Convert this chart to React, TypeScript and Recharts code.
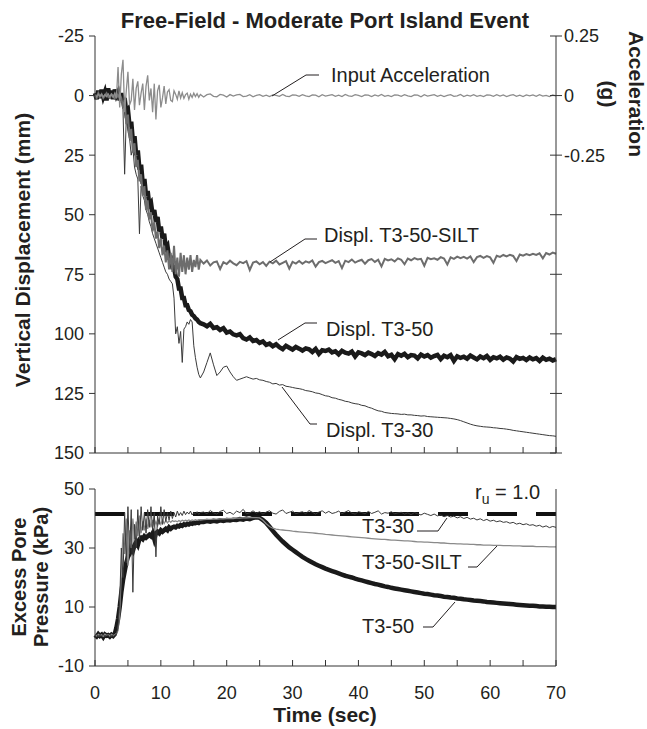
import React from "react";
import { LineChart, Line, XAxis, YAxis, ReferenceLine } from "recharts";

const FONT = '"Liberation Sans", Arial, Helvetica, sans-serif';
const INK = "#231f20";
const AXIS = "#333";

// sampling grid (sec): 0-16 every 0.25 s, then 16.5-70 every 0.5 s
const fineTime = Array.from({ length: 65 }, (_, i) => i * 0.25);
const coarseTime = Array.from({ length: 108 }, (_, i) => 16.5 + i * 0.5);
const time = [...fineTime, ...coarseTime];

const timeTicks = [0, 5, 10, 15, 20, 25, 30, 35, 40, 45, 50, 55, 60, 65, 70];
const dispTicks = [-25, 0, 25, 50, 75, 100, 125, 150];
const accTicks = [0.25, 0, -0.25, -0.5, -0.75, -1, -1.25, -1.5];
const poreTicks = [50, 30, 10, -10];
const ruLevel = 41.5;

// input acceleration (g)
const accel = [
  0.004, -0.005, 0.006, -0.003, 0.005, -0.006, 0.004, -0.004, 0.007, -0.005, 0.006, -0.008, 0.01, -0.012,
  0.12, -0.05, 0.09, 0.15, -0.07, 0.02, 0.1, -0.04, -0.02, 0.07, -0.06, 0.03, 0.06, -0.04, 0.01, 0.05,
  -0.06, 0.04, 0.085, -0.02, 0.03, -0.07, 0.05, -0.1, 0.02, 0.045, -0.05, -0.01, 0.04, -0.035, 0.015, 0.025,
  -0.02, -0.025, 0.02, 0.005, -0.015, 0.02, -0.01, 0.012, -0.012, 0.004, 0.01, -0.015, 0.006, -0.008, 0.01,
  -0.004, 0.008, -0.007, 0.005,
  -0.006, 0.004, 0.007, -0.003, -0.005, 0.005, 0.002, -0.006, 0.004, -0.002,
  0.003, 0.005, -0.004, -0.002, 0.004, -0.005, 0.001, 0.004, -0.003, 0.002,
  -0.004, 0.003, 0.001, -0.003, 0.005, -0.002, -0.004, 0.003, 0.002, -0.003,
  0.004, -0.001, -0.004, 0.003, 0.002, -0.005, 0.004, -0.002, 0.001, 0.004,
  -0.003, 0.002, -0.004, 0.005, -0.001, -0.003, 0.004, 0.001, -0.004, 0.003,
  0.002, -0.004, 0.003, -0.002, 0.005, -0.003, 0.001, -0.004, 0.003, 0.002,
  -0.003, 0.004, -0.001, -0.004, 0.003, 0.002, -0.005, 0.004, -0.002, 0.001,
  0.004, -0.003, 0.002, -0.004, 0.001, 0.004, -0.003, -0.001, 0.005, -0.004,
  0.002, -0.002, 0.004, -0.003, 0.001, -0.004, 0.003, 0.002, -0.003, 0.004,
  -0.002, 0.003, -0.004, 0.001, 0.004, -0.003, 0.002, -0.004, 0.003, -0.001,
  0.003, -0.003, 0.004, -0.002, 0.001, -0.004, 0.003, -0.001,
];

// vertical displacement (mm)
const displT350 = [
  -1, 1.5, -2, 1, -2.5, 0.5, -1.5, 2, -3, 1, -2, 1.5, -2.5, 0, -1.5, 2, -1,
  3, 1, 7, 6, 13, 11, 19, 17, 25, 23, 31, 29, 37, 35, 42, 40, 46, 45, 50, 48, 53, 51, 57, 55,
  60, 58, 64, 63, 68, 68, 72, 72, 76, 77, 81, 81, 85, 85, 88, 88, 90, 90.5, 92, 92.5, 93.5, 94, 95, 95.5,
  96, 96.8, 95.8, 97.5, 97.2, 98.4, 97.6, 99.5, 99, 100.2,
  100.6, 100.1, 101.8, 102.4, 101.5, 103, 102.6, 103.8, 103.2, 104.6,
  104.1, 105.2, 104.4, 105.6, 106.4, 105, 105.8, 106.6, 105.5, 106.2,
  107, 106.1, 106.5, 107.6, 106.3, 108.4, 106.9, 107.2, 106.6, 107.8,
  107.3, 108.6, 107.1, 107.9, 108.3, 107.4, 109.5, 107.8, 108.2, 108.9,
  107.9, 108.5, 109.3, 108.1, 108.7, 107.6, 109.4, 108.8, 110.6, 108.5,
  109.2, 108.4, 109.8, 108.9, 109.1, 110.3, 108.7, 109.5, 108.9, 110,
  109.3, 108.8, 110.6, 109.2, 109.8, 108.9, 111.3, 109.4, 110.1, 109.6,
  110.4, 109.1, 109.9, 110.7, 109.5, 110.2, 109.3, 110.9, 109.8, 110.3,
  109.6, 110.8, 109.9, 110.4, 111.6, 109.8, 110.5, 110.1, 111, 109.9,
  110.7, 110.2, 111.4, 110, 110.9, 110.4, 111.2, 110.6,
];

const displT330 = [
  0.5, -0.5, 1, 0, -1, 0.5, -0.5, 1, -1, 0.5, 0, 1, -0.5, 0.5, 0, 1, 2,
  6, 33, 9, 15, 18, 25, 22, 30, 33, 35, 58, 38, 42, 44, 48, 50, 53, 55, 58, 60, 62, 64, 66, 68,
  70, 72, 74, 75, 77, 78, 79, 85, 100, 97, 104, 99, 112, 98, 97, 95, 96, 94, 95, 105, 110, 114, 117, 118.5,
  116, 112, 108, 113, 117.5, 116, 114, 113.5, 116, 118,
  119.5, 119, 118.5, 118, 118.5, 119, 118.7, 119.3, 119.5, 120,
  120.3, 121, 120.8, 121.5, 121.3, 122, 122.2, 122.5, 122.8, 123,
  123.3, 123.8, 124, 124.3, 124.8, 125, 125.5, 126, 126.2, 126.8,
  127, 127.5, 127.8, 128.3, 128.5, 129, 129.3, 129.5, 130, 130.2,
  130.8, 131.2, 131.8, 132.3, 132.5, 133, 133.2, 133.4, 133.5, 133.6,
  133.8, 133.7, 134, 134, 134.2, 134.3, 134.5, 134.4, 134.7, 134.8,
  134.9, 135, 135.1, 135.2, 135.3, 135.5, 135.7, 136, 136.4, 136.9,
  137.4, 137.9, 138.3, 138.6, 138.8, 139, 139.1, 139.2, 139.4, 139.5,
  139.7, 139.8, 140, 140.2, 140.5, 140.7, 140.9, 141.1, 141.3, 141.5,
  141.7, 141.9, 142.1, 142.3, 142.5, 142.7, 142.8, 143,
];

const displT350Silt = [
  0, 1, -1, 0.5, -0.5, 1, 0, -1, 0.5, 1, -0.5, 0, 1, -1, 0.5, -0.5, 1,
  5, 2, 12, 8, 18, 14, 24, 20, 30, 27, 36, 33, 42, 38, 48, 44, 52, 49, 57, 53, 60, 57, 64, 60,
  67, 63, 70, 65, 73, 66, 74, 63, 75, 68, 76, 66, 74, 67, 75, 68, 73, 67, 74, 69, 72, 67, 73, 69,
  70.5, 69.2, 71.3, 70, 69.6, 72.8, 69.9, 70.7, 69.3, 70.4,
  71.2, 69.8, 70.3, 69.5, 73.2, 70.1, 69.6, 70.8, 69.9, 71.5,
  69.7, 70.4, 69.3, 70.9, 70.2, 69.5, 72.6, 69.8, 70.5, 69.4,
  70.6, 69.6, 70.1, 69.2, 71.8, 69.9, 69.4, 70.3, 69.7, 69.1,
  70.2, 69.5, 72.4, 69.3, 69.9, 68.8, 70.1, 69.4, 68.9, 70.6,
  69.1, 68.6, 69.8, 68.9, 71.7, 68.5, 69.2, 68.7, 69.6, 68.3,
  68.9, 70.8, 68.4, 69.1, 68.2, 68.8, 68.5, 71.4, 68.1, 68.7,
  68.3, 68.9, 67.8, 68.4, 70.9, 67.9, 68.5, 67.6, 68.2, 67.7,
  68.4, 67.5, 69.9, 67.8, 67.3, 68.1, 67.4, 67.9, 70.2, 67.2,
  67.7, 66.9, 67.5, 66.8, 67.3, 69.4, 66.7, 67.2, 66.5, 67,
  66.4, 66.9, 66.2, 68.3, 66.1, 66.7, 65.9, 66.4,
];

// excess pore pressure (kPa)
const poreT350 = [
  0.5, 0, 0.8, 0.2, 0.6, -0.2, 0.7, 0.3, 0.5, 0, 0.6, 0.2, 0.8,
  3, 6, 10, 15, 19, 22, 25, 27, 28, 30, 29, 31, 32, 31, 33, 33.5, 33, 34, 33.5, 34, 34.5, 34, 35, 33,
  35, 35.5, 35, 36, 35.5, 36, 36.5, 36, 37, 36.5, 37, 37.2, 37, 37.5, 37.3, 37.8, 37.5, 38, 37.8, 38.2,
  38, 38.4, 38.2, 38.5, 38.4, 38.7, 38.5, 38.9,
  38.8, 39.1, 38.9, 39.2, 39, 39.4, 39.2, 39.5, 39.3, 39.6,
  39.5, 39.8, 39.6, 40, 39.8, 40.2, 40.4, 40.2, 39.5, 38.5,
  37.2, 35.8, 34.5, 33.3, 32.2, 31.2, 30.2, 29.4, 28.6, 27.8,
  27, 26.3, 25.7, 25.1, 24.5, 24, 23.5, 23, 22.6, 22.2,
  21.8, 21.4, 21, 20.6, 20.3, 20, 19.6, 19.3, 19, 18.7,
  18.4, 18.1, 17.8, 17.6, 17.3, 17, 16.8, 16.5, 16.3, 16.1,
  15.9, 15.7, 15.5, 15.3, 15.1, 14.9, 14.7, 14.5, 14.4, 14.2,
  14, 13.9, 13.7, 13.5, 13.4, 13.2, 13.1, 12.9, 12.8, 12.6,
  12.5, 12.4, 12.2, 12.1, 12, 11.9, 11.7, 11.6, 11.5, 11.4,
  11.3, 11.2, 11.1, 11, 10.9, 10.8, 10.7, 10.6, 10.5, 10.4,
  10.4, 10.3, 10.2, 10.2, 10.1, 10.1, 10, 10,
];

const poreT330 = [
  0.3, 0.8, -0.2, 0.6, 0.1, 0.9, -0.1, 0.5, 0.2, 0.8, 0, 0.6, 0.3, 1, 3,
  12, 30, 20, 42, 25, 44, 28, 43, 15, 38, 30, 43, 33, 44, 36, 42, 35, 43, 37, 44, 36, 42, 27, 41,
  38, 44, 38, 43, 39, 42, 39.5, 42.5, 40, 42, 40.5, 42.5, 41, 42, 41, 42.5, 41.3, 42.2, 41.5, 42.5,
  41.2, 42, 41.5, 42.3, 41.4, 42,
  42.2, 41.6, 42.7, 41.9, 41.5, 42.4, 42.8, 41.7, 42.1, 41.4,
  42.5, 42, 43.1, 41.6, 41.9, 42.6, 41.8, 42.3, 41.5, 42.2,
  42.6, 41.8, 41.5, 42.4, 42.9, 41.7, 42.1, 42.5, 41.6, 42,
  42.3, 41.6, 42.7, 42.1, 41.5, 42.2, 42.6, 41.8, 42.4, 41.7,
  42, 42.5, 41.6, 42.2, 42.7, 41.8, 41.5, 42.3, 42, 41.6,
  42.4, 41.7, 42.1, 42.6, 41.5, 42, 41.8, 42.3, 41.6, 41.9,
  42.1, 41.5, 41.9, 41.3, 42, 41.6, 41.2, 41.8, 41.4, 41,
  41.5, 40.9, 41.2, 40.6, 41, 40.5, 40.8, 40.2, 40.6, 40,
  40.4, 39.8, 40.1, 39.5, 39.9, 39.3, 39.7, 39.1, 39.4, 38.9,
  39.2, 38.7, 38.9, 38.4, 38.7, 38.1, 38.4, 37.9, 38.2, 37.7,
  37.9, 37.4, 37.7, 37.1, 37.5, 36.9, 37.3, 37,
];

const poreT350Silt = [
  0.5, 0.2, 0.7, 0.3, 0.6, 0.1, 0.8, 0.4, 0.5, 0.2, 0.7, 0.3, 0.6, 1, 2,
  8, 22, 35, 28, 40, 24, 36, 30, 40, 33, 39, 34, 41, 35, 39, 36, 40, 36.5, 39.5, 37, 39.5, 37.5, 39, 37.5,
  39.5, 38, 39.5, 38.3, 39.3, 38.5, 39.3, 38.7, 39.3, 39, 39.2, 38.9, 39.3, 39, 39.4, 39.1, 39.4, 39.2,
  39.5, 39.2, 39.5, 39.3, 39.6, 39.4, 39.6, 39.5,
  39.6, 39.7, 39.7, 39.8, 39.8, 39.9, 39.9, 40, 40, 40,
  40.1, 40.1, 40.2, 40.2, 40.3, 40.3, 40.3, 40.2, 39.4, 38.2,
  37.3, 36.7, 36.4, 36.2, 36.1, 36, 35.9, 35.7, 35.6, 35.5,
  35.4, 35.3, 35.2, 35.1, 35, 34.9, 34.8, 34.6, 34.5, 34.4,
  34.3, 34.2, 34.1, 34, 33.9, 33.8, 33.7, 33.6, 33.5, 33.4,
  33.3, 33.2, 33.1, 33, 32.9, 32.9, 32.8, 32.7, 32.7, 32.6,
  32.5, 32.4, 32.4, 32.3, 32.2, 32.1, 32.1, 32, 32, 31.9,
  31.8, 31.8, 31.7, 31.7, 31.6, 31.5, 31.5, 31.4, 31.4, 31.3,
  31.3, 31.2, 31.2, 31.1, 31.1, 31, 31, 31, 30.9, 30.9,
  30.9, 30.8, 30.8, 30.8, 30.7, 30.7, 30.7, 30.6, 30.6, 30.6,
  30.6, 30.5, 30.5, 30.5, 30.5, 30.4, 30.4, 30.4,
];

const topRows = time.map((t, i) => ({
  t,
  acc: accel[i],
  d50: displT350[i],
  d30: displT330[i],
  silt: displT350Silt[i],
}));

const bottomRows = time.map((t, i) => ({
  t,
  p50: poreT350[i],
  p30: poreT330[i],
  silt: poreT350Silt[i],
}));

const txt = { fontFamily: FONT, fill: INK } as const;

function LeftTick(props: any) {
  const { x, y, payload } = props;
  return (
    <g>
      <line x1={x - 6} y1={y} x2={x} y2={y} stroke={AXIS} />
      <text x={x - 11} y={y} dy="0.36em" textAnchor="end" fontSize={18} {...txt}>
        {payload.value}
      </text>
    </g>
  );
}

function AccTick(props: any) {
  const { x, y, payload } = props;
  const v = payload.value as number;
  return (
    <g>
      <line x1={x - 6} y1={y} x2={x + 6} y2={y} stroke={AXIS} />
      {v >= -0.25 && (
        <text x={x + 8} y={y} dy="0.36em" textAnchor="start" fontSize={18} {...txt}>
          {v}
        </text>
      )}
    </g>
  );
}

function CrossTick(props: any) {
  const { x, y } = props;
  return <line x1={x - 6} y1={y} x2={x + 6} y2={y} stroke={AXIS} />;
}

function InnerTick(props: any) {
  const { x, y } = props;
  return <line x1={x} y1={y} x2={x} y2={y - 6} stroke={AXIS} />;
}

function TimeTick(props: any) {
  const { x, y, payload } = props;
  const v = payload.value as number;
  return (
    <g>
      <line x1={x} y1={y} x2={x} y2={y - 6} stroke={AXIS} />
      {v % 10 === 0 && (
        <text x={x} y={y + 33} textAnchor="middle" fontSize={18} {...txt}>
          {v}
        </text>
      )}
    </g>
  );
}

function Leader({ pts }: { pts: number[][] }) {
  return <polyline points={pts.map((p) => p.join(",")).join(" ")} fill="none" stroke={INK} strokeWidth={1} />;
}

export default function App() {
  return (
    <div style={{ position: "absolute", left: 0, top: 0, width: 647, height: 729, background: "#fff" }}>
      <div style={{ position: "absolute", left: 0, top: 0 }}>
        <LineChart width={647} height={470} data={topRows} margin={{ top: 36, right: 0, bottom: 0, left: 0 }}>
          <XAxis
            dataKey="t"
            type="number"
            domain={[0, 70]}
            ticks={timeTicks}
            interval={0}
            height={17}
            tickSize={0}
            tickMargin={0}
            tickLine={false}
            tick={InnerTick}
            axisLine={{ stroke: AXIS }}
          />
          <YAxis
            yAxisId="disp"
            type="number"
            domain={[-25, 150]}
            reversed
            ticks={dispTicks}
            interval={0}
            width={95}
            tickSize={0}
            tickMargin={0}
            tickLine={false}
            tick={LeftTick}
            axisLine={{ stroke: AXIS }}
          />
          <YAxis
            yAxisId="acc"
            orientation="right"
            type="number"
            domain={[-1.5, 0.25]}
            ticks={accTicks}
            interval={0}
            width={91}
            tickSize={0}
            tickMargin={0}
            tickLine={false}
            tick={AccTick}
            axisLine={{ stroke: AXIS }}
          />
          <Line yAxisId="disp" dataKey="d50" type="linear" stroke="#1a1a1a" strokeWidth={4.5} dot={false} isAnimationActive={false} />
          <Line yAxisId="disp" dataKey="d30" type="linear" stroke="#3a3a3a" strokeWidth={1} dot={false} isAnimationActive={false} />
          <Line yAxisId="disp" dataKey="silt" type="linear" stroke="#6d6d6d" strokeWidth={2} dot={false} isAnimationActive={false} />
          <Line yAxisId="acc" dataKey="acc" type="linear" stroke="#8c8c8c" strokeWidth={1.3} dot={false} isAnimationActive={false} />
        </LineChart>
      </div>

      <div style={{ position: "absolute", left: 0, top: 470 }}>
        <LineChart width={647} height={236} data={bottomRows} margin={{ top: 19, right: 0, bottom: 0, left: 0 }}>
          <XAxis
            dataKey="t"
            type="number"
            domain={[0, 70]}
            ticks={timeTicks}
            interval={0}
            height={40}
            tickSize={0}
            tickMargin={0}
            tickLine={false}
            tick={TimeTick}
            axisLine={{ stroke: AXIS }}
          />
          <YAxis
            yAxisId="p"
            type="number"
            domain={[-10, 50]}
            ticks={poreTicks}
            interval={0}
            width={95}
            tickSize={0}
            tickMargin={0}
            tickLine={false}
            tick={LeftTick}
            axisLine={{ stroke: AXIS }}
          />
          <YAxis
            yAxisId="r"
            orientation="right"
            type="number"
            domain={[-10, 50]}
            ticks={poreTicks}
            interval={0}
            width={91}
            tickSize={0}
            tickMargin={0}
            tickLine={false}
            tick={CrossTick}
            axisLine={{ stroke: AXIS }}
          />
          <ReferenceLine yAxisId="p" y={ruLevel} stroke="#111" strokeWidth={4} strokeDasharray="30 19" />
          <Line yAxisId="p" dataKey="p50" type="linear" stroke="#1a1a1a" strokeWidth={4.5} dot={false} isAnimationActive={false} />
          <Line yAxisId="p" dataKey="silt" type="linear" stroke="#8a8a8a" strokeWidth={1.3} dot={false} isAnimationActive={false} />
          <Line yAxisId="p" dataKey="p30" type="linear" stroke="#3a3a3a" strokeWidth={1} dot={false} isAnimationActive={false} />
        </LineChart>
      </div>

      <svg width={647} height={729} style={{ position: "absolute", left: 0, top: 0, pointerEvents: "none" }}>
        <text x={325} y={28} textAnchor="middle" fontSize={22} fontWeight="bold" {...txt}>
          Free-Field - Moderate Port Island Event
        </text>
        <text transform="translate(30,250) rotate(-90)" textAnchor="middle" fontSize={21} fontWeight="bold" {...txt}>
          Vertical Displacement (mm)
        </text>
        <text transform="translate(629,94) rotate(90)" textAnchor="middle" fontSize={21} fontWeight="bold" {...txt}>
          Acceleration
        </text>
        <text transform="translate(601,94) rotate(90)" textAnchor="middle" fontSize={21} fontWeight="bold" {...txt}>
          (g)
        </text>
        <text transform="translate(26,577) rotate(-90)" textAnchor="middle" fontSize={20} fontWeight="bold" {...txt}>
          Excess Pore
        </text>
        <text transform="translate(48,577) rotate(-90)" textAnchor="middle" fontSize={20} fontWeight="bold" {...txt}>
          Pressure (kPa)
        </text>
        <text x={325} y={722} textAnchor="middle" fontSize={21} fontWeight="bold" {...txt}>
          Time (sec)
        </text>

        <Leader pts={[[272, 96], [306, 75], [319, 75]]} />
        <text x={331} y={82} fontSize={20} {...txt}>Input Acceleration</text>
        <Leader pts={[[270, 262], [305, 239], [317, 239]]} />
        <text x={324} y={242} fontSize={20} {...txt}>Displ. T3-50-SILT</text>
        <Leader pts={[[278, 340], [305, 323], [317, 323]]} />
        <text x={326} y={336} fontSize={20} {...txt}>Displ. T3-50</text>
        <Leader pts={[[282, 387], [310, 424], [317, 424]]} />
        <text x={326} y={437} fontSize={20} {...txt}>Displ. T3-30</text>

        <text x={475} y={499} fontSize={20} {...txt}>
          r<tspan fontSize={14} dy={5}>u</tspan>
          <tspan dy={-5}> = 1.0</tspan>
        </text>
        <text x={362} y={533} fontSize={20} {...txt}>T3-30</text>
        <Leader pts={[[417, 531], [438, 531], [447, 518]]} />
        <text x={362} y={569} fontSize={20} {...txt}>T3-50-SILT</text>
        <Leader pts={[[468, 567], [477, 567], [497, 546]]} />
        <text x={362} y={633} fontSize={20} {...txt}>T3-50</text>
        <Leader pts={[[423, 627], [433, 627], [455, 602]]} />
      </svg>
    </div>
  );
}
